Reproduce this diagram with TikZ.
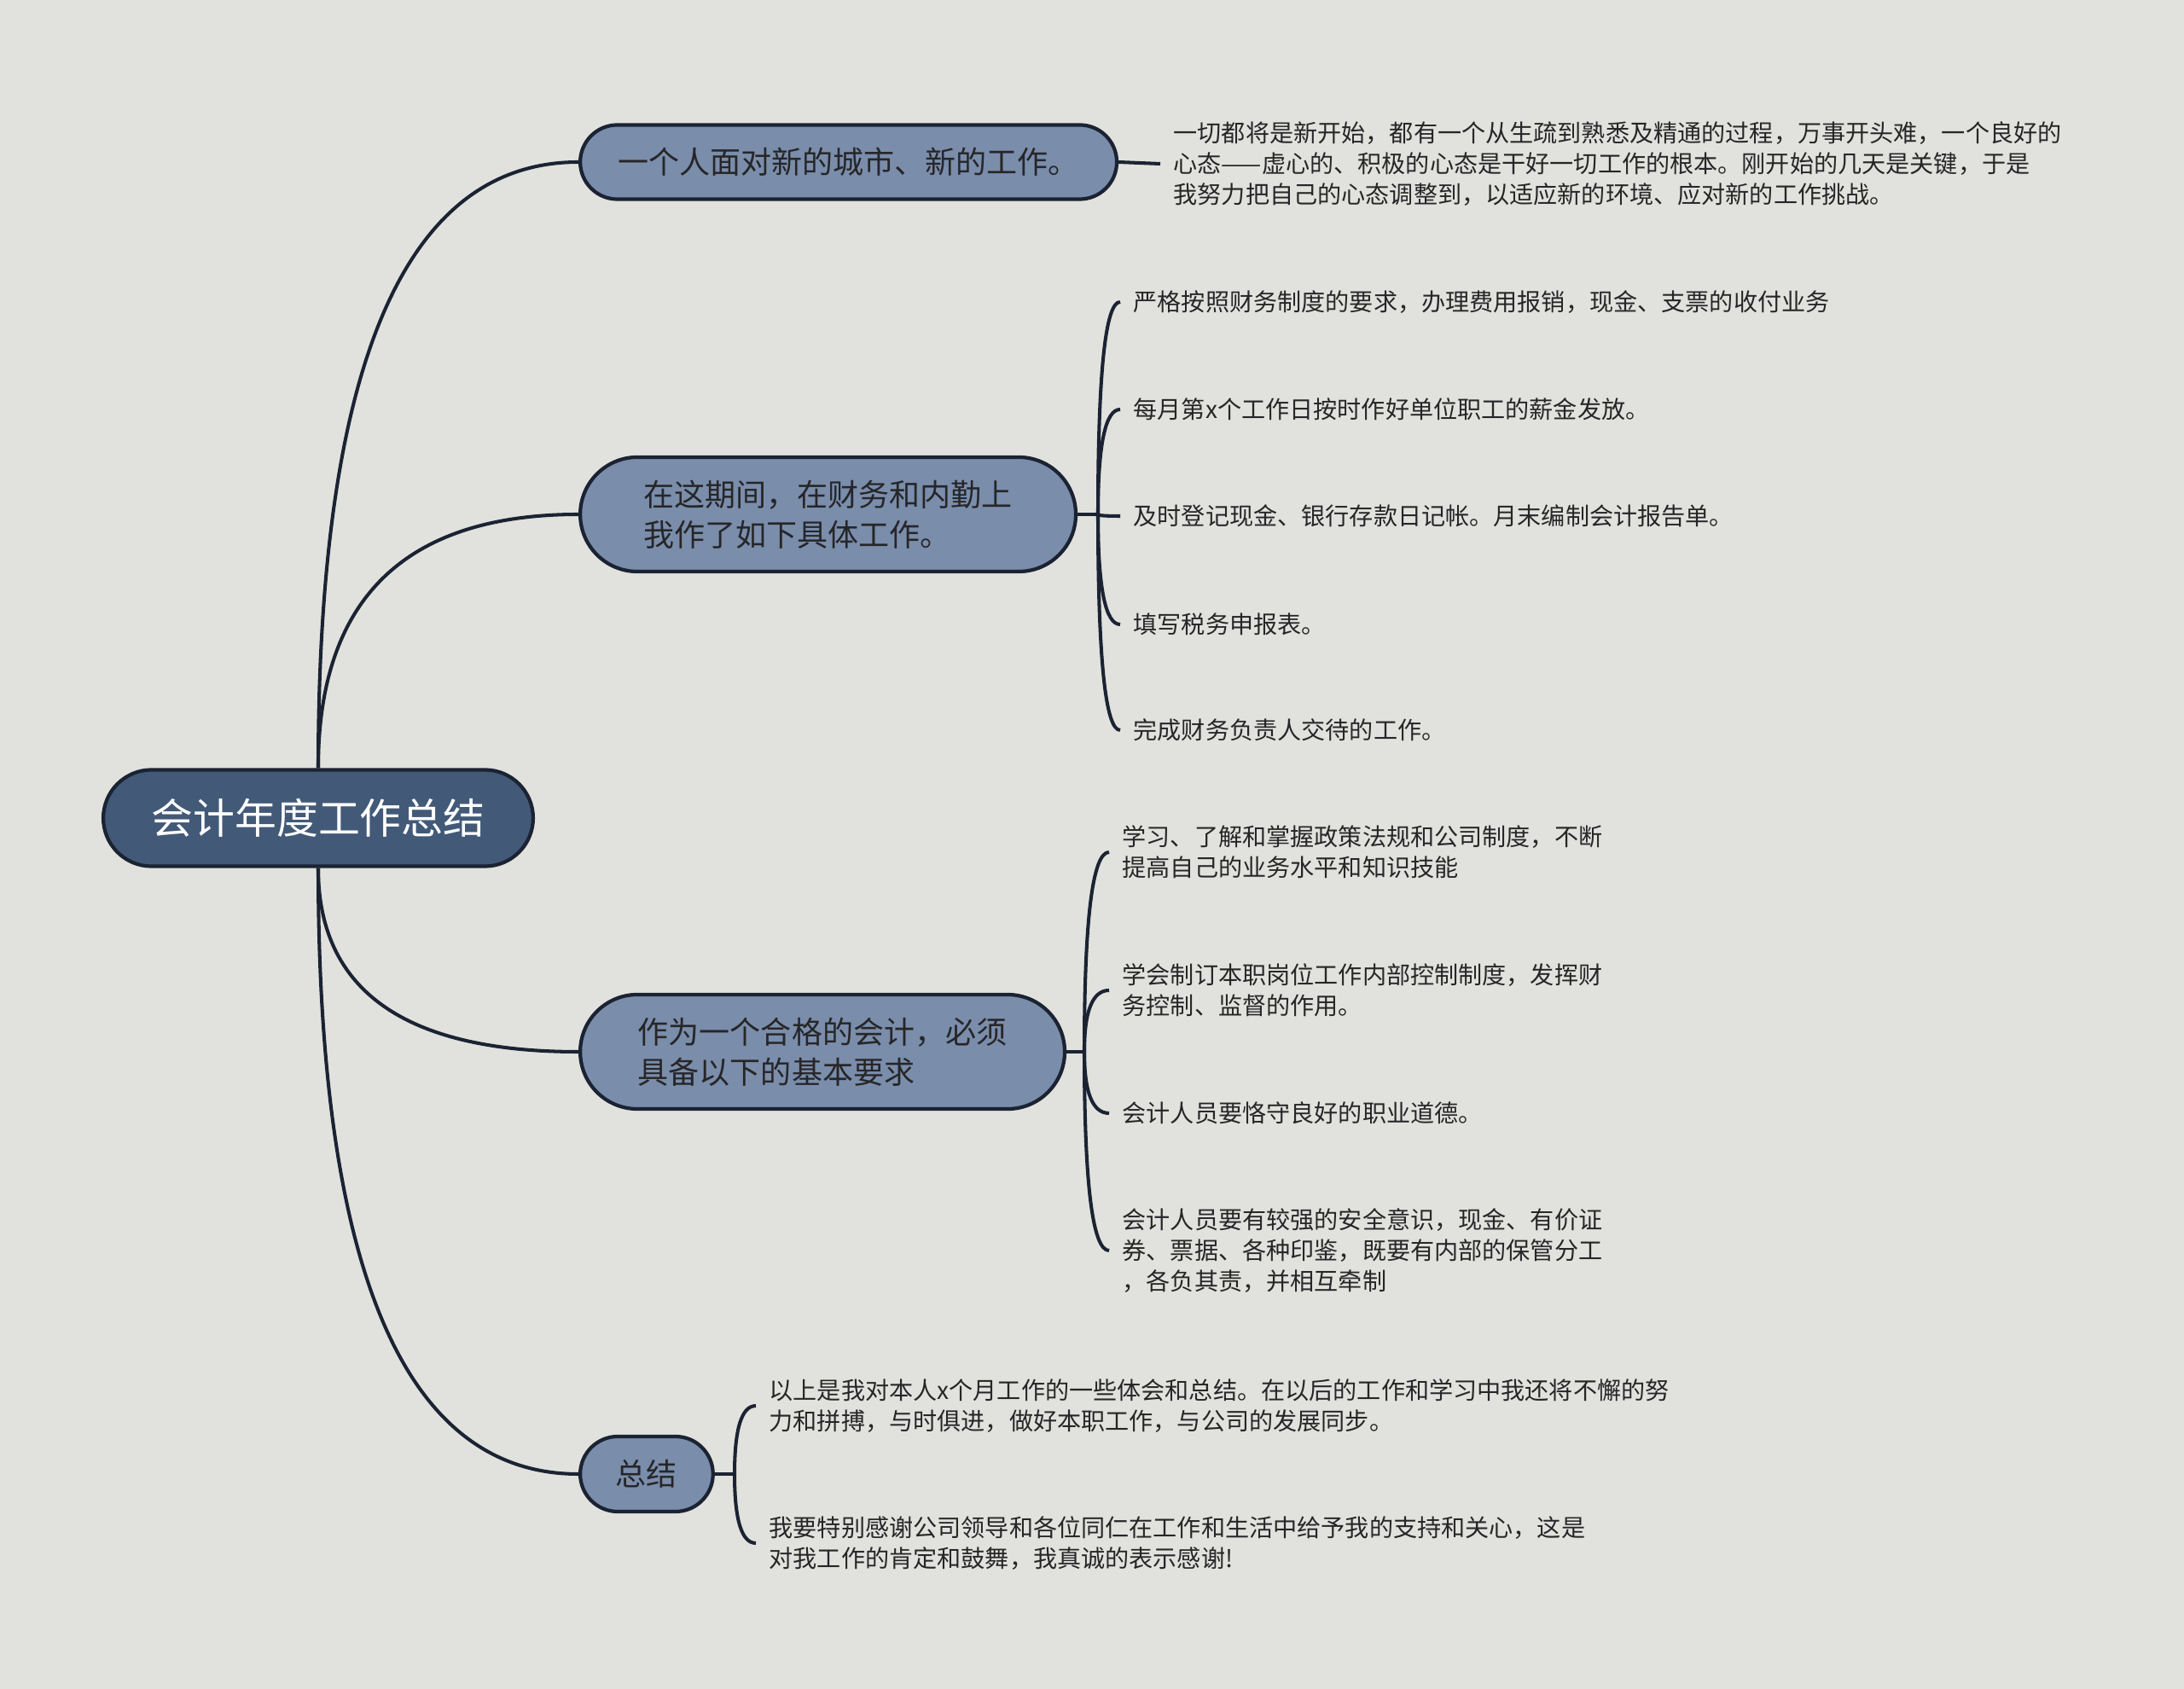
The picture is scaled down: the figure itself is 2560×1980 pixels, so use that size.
\documentclass[tikz,border=0pt]{standalone}
\usepackage{fontspec}
\setmainfont{Noto Sans CJK SC}
\usetikzlibrary{
  shapes.misc,
  calc,
  positioning
}
\definecolor{bgcolor}{RGB}{225, 226, 221}
\definecolor{rootcolor}{RGB}{66, 90, 120}
\definecolor{branchcolor}{RGB}{122, 141, 171}
\definecolor{linecolor}{RGB}{27, 35, 51}
\definecolor{labelcolor}{RGB}{38, 38, 40}
\tikzset{
rootnode/.style={
  rounded rectangle,
  draw=linecolor,
  line width=1.2pt,
  fill=rootcolor,
  text=white,
  font=\fontsize{13.9}{16}\selectfont,
  minimum width=5.27cm,
  minimum height=1.13cm
},
branchnode/.style={
  rounded rectangle,
  draw=linecolor,
  line width=1.2pt,
  fill=branchcolor,
  text=labelcolor,
  align=left,
  anchor=west,
  font=\fontsize{10.25}{13.4}\selectfont,
  minimum height=0.87cm
},
leafnode/.style={
  anchor=west,
  align=left,
  inner xsep=0.15cm,
  inner ysep=0pt,
  text=labelcolor,
  font=\fontsize{8}{10.2}\selectfont
},
link/.style={
  draw=linecolor,
  line width=1.15pt
},
curvelink/.style={
  link,
  to path={.. controls ($(\tikztostart)!2/3!(\tikztostart |- \tikztotarget)$)
    and ($(\tikztotarget)!2/3!(\tikztostart |- \tikztotarget)$) .. (\tikztotarget)}
}
}

\begin{document}
\begin{tikzpicture}[x=0.01cm, y=-0.01cm]

% ============================================================================
% FUNDO
% ============================================================================
\useasboundingbox (0, 0) rectangle (2560, 1980);
\fill[bgcolor] (0, 0) rectangle (2560, 1980);

% ============================================================================
% RAIZ E RAMOS
% ============================================================================
\node[rootnode] (root) at (373, 959) {会计年度工作总结};

\node[branchnode, minimum width=6.52cm] (newcity) at (678, 190) {一个人面对新的城市、新的工作。};
\node[branchnode, minimum width=6.04cm, minimum height=1.34cm] (period) at (678, 603) {在这期间，在财务和内勤上\\我作了如下具体工作。};
\node[branchnode, minimum width=5.91cm, minimum height=1.34cm] (qualify) at (678, 1233) {作为一个合格的会计，必须\\具备以下的基本要求};
\node[branchnode, minimum width=1.79cm, minimum height=0.88cm] (summary) at (678, 1728) {总结};

\draw[curvelink] (root.north) to (newcity.west);
\draw[curvelink] (root.north) to (period.west);
\draw[curvelink] (root.south) to (qualify.west);
\draw[curvelink] (root.south) to (summary.west);

% ============================================================================
% NOVA CIDADE
% ============================================================================
\node[leafnode] (newcity1) at (1360, 192) {一切都将是新开始，都有一个从生疏到熟悉及精通的过程，万事开头难，一个良好的\\心态——虚心的、积极的心态是干好一切工作的根本。刚开始的几天是关键，于是\\我努力把自己的心态调整到，以适应新的环境、应对新的工作挑战。};
\draw[link] (newcity.east) -- (newcity1.west);

% ============================================================================
% TRABALHO NESTE PERIODO
% ============================================================================
\coordinate (periodhub) at (1287, 603);
\node[leafnode] (period1) at (1313, 354) {严格按照财务制度的要求，办理费用报销，现金、支票的收付业务};
\node[leafnode] (period2) at (1313, 480) {每月第x个工作日按时作好单位职工的薪金发放。};
\node[leafnode] (period3) at (1313, 605) {及时登记现金、银行存款日记帐。月末编制会计报告单。};
\node[leafnode] (period4) at (1313, 732) {填写税务申报表。};
\node[leafnode] (period5) at (1313, 856) {完成财务负责人交待的工作。};

\draw[link] (period.east) -- (periodhub);
\draw[curvelink] (periodhub) to (period1.west);
\draw[curvelink] (periodhub) to (period2.west);
\draw[curvelink] (periodhub) to (period3.west);
\draw[curvelink] (periodhub) to (period4.west);
\draw[curvelink] (periodhub) to (period5.west);

% ============================================================================
% REQUISITOS
% ============================================================================
\coordinate (qualifyhub) at (1271, 1233);
\node[leafnode] (qualify1) at (1300, 999) {学习、了解和掌握政策法规和公司制度，不断\\提高自己的业务水平和知识技能};
\node[leafnode] (qualify2) at (1300, 1161) {学会制订本职岗位工作内部控制制度，发挥财\\务控制、监督的作用。};
\node[leafnode] (qualify3) at (1300, 1305) {会计人员要恪守良好的职业道德。};
\node[leafnode] (qualify4) at (1300, 1466) {会计人员要有较强的安全意识，现金、有价证\\券、票据、各种印鉴，既要有内部的保管分工\\，各负其责，并相互牵制};

\draw[link] (qualify.east) -- (qualifyhub);
\draw[curvelink] (qualifyhub) to (qualify1.west);
\draw[curvelink] (qualifyhub) to (qualify2.west);
\draw[curvelink] (qualifyhub) to (qualify3.west);
\draw[curvelink] (qualifyhub) to (qualify4.west);

% ============================================================================
% RESUMO
% ============================================================================
\coordinate (summaryhub) at (861, 1728);
\node[leafnode] (summary1) at (886, 1648) {以上是我对本人x个月工作的一些体会和总结。在以后的工作和学习中我还将不懈的努\\力和拼搏，与时俱进，做好本职工作，与公司的发展同步。};
\node[leafnode] (summary2) at (886, 1809) {我要特别感谢公司领导和各位同仁在工作和生活中给予我的支持和关心，这是\\对我工作的肯定和鼓舞，我真诚的表示感谢!};

\draw[link] (summary.east) -- (summaryhub);
\draw[curvelink] (summaryhub) to (summary1.west);
\draw[curvelink] (summaryhub) to (summary2.west);

\end{tikzpicture}
\end{document}
